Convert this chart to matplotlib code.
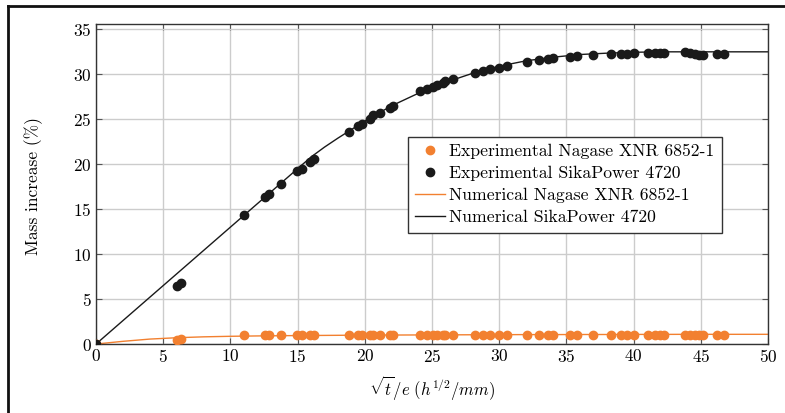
import matplotlib
matplotlib.use("Agg")
import matplotlib.pyplot as plt
from matplotlib.lines import Line2D

plt.rcParams["font.family"] = "serif"
plt.rcParams["font.serif"] = ["cmr10"]
plt.rcParams["mathtext.fontset"] = "cm"
plt.rcParams["axes.formatter.use_mathtext"] = True

# Measurement abscissae, sqrt(t)/e (h^1/2/mm)
x_exp = [0, 6.0, 6.3, 11.0, 12.6, 12.9, 13.8, 14.95, 15.3, 15.9, 16.2, 18.8, 19.5,
         19.8, 20.4, 20.6, 21.1, 21.9, 22.1, 24.1, 24.6, 25.1, 25.4, 25.8, 26.0,
         26.6, 28.2, 28.8, 29.3, 30.0, 30.6, 32.1, 33.0, 33.6, 34.0, 35.3, 35.8,
         37.0, 38.3, 39.1, 39.5, 40.0, 41.1, 41.6, 42.0, 42.3, 43.8, 44.2, 44.6,
         44.9, 45.2, 46.2, 46.7]

# Mass increase (%) - SikaPower 4720
sika_exp = [0, 6.4, 6.8, 14.3, 16.4, 16.7, 17.8, 19.2, 19.5, 20.2, 20.6, 23.6, 24.3,
            24.5, 25.0, 25.5, 25.7, 26.3, 26.5, 28.1, 28.4, 28.6, 28.8, 29.0, 29.2,
            29.5, 30.2, 30.4, 30.6, 30.7, 30.9, 31.4, 31.6, 31.7, 31.8, 31.9, 32.0,
            32.1, 32.3, 32.3, 32.3, 32.35, 32.4, 32.4, 32.4, 32.4, 32.5, 32.4, 32.3,
            32.2, 32.2, 32.3, 32.3]

# Mass increase (%) - Nagase XNR 6852-1
nagase_exp = [0, 0.5, 0.6, 0.95, 1.0, 1.0, 1.0, 1.0, 1.0, 1.0, 1.0, 1.05, 1.05,
              1.05, 1.05, 1.05, 1.05, 1.05, 1.05, 1.05, 1.05, 1.05, 1.05, 1.05, 1.05,
              1.05, 1.05, 1.05, 1.05, 1.05, 1.05, 1.05, 1.05, 1.05, 1.05, 1.05, 1.05,
              1.05, 1.05, 1.05, 1.05, 1.05, 1.05, 1.05, 1.05, 1.05, 1.05, 1.05, 1.05,
              1.05, 1.05, 1.05, 1.05]

# Numerical predictions
x_num = [0, 2, 4, 6, 8, 10, 12, 14, 16, 17, 18, 20, 22, 24, 26, 28, 30, 32, 34, 36,
         38, 40, 42, 44, 46, 48, 50]
sika_num = [0, 2.6, 5.2, 7.8, 10.4, 13.0, 15.6, 18.2, 20.8, 21.9, 22.9, 24.8, 26.5,
            27.9, 29.1, 30.1, 30.9, 31.5, 31.9, 32.2, 32.35, 32.45, 32.5, 32.5, 32.5,
            32.5, 32.5]
nagase_num = [0, 0.3, 0.55, 0.7, 0.8, 0.86, 0.9, 0.93, 0.95, 0.96, 0.97, 0.99, 1.0,
              1.01, 1.02, 1.03, 1.04, 1.05, 1.05, 1.06, 1.06, 1.07, 1.07, 1.08, 1.08,
              1.08, 1.08]

x_ticks = [0, 5, 10, 15, 20, 25, 30, 35, 40, 45, 50]
y_ticks = [0, 5, 10, 15, 20, 25, 30, 35]

ORANGE = "#f28030"
BLACK = "#1a1a1a"

fig = plt.figure(figsize=(7.85, 4.13), dpi=100)
ax = fig.add_axes([0.1223, 0.167, 0.856, 0.775])

ax.plot(x_exp, nagase_exp, "o", color=ORANGE, ms=6, zorder=3,
        label="Experimental Nagase XNR 6852-1")
ax.plot(x_exp, sika_exp, "o", color=BLACK, ms=6, zorder=4,
        label="Experimental SikaPower 4720")
ax.plot(x_num, nagase_num, "-", color=ORANGE, lw=1.0, zorder=2,
        label="Numerical Nagase XNR 6852-1")
ax.plot(x_num, sika_num, "-", color=BLACK, lw=1.0, zorder=2,
        label="Numerical SikaPower 4720")

ax.set_xlim(0, 50)
ax.set_ylim(0, 35.6)
ax.set_xticks(x_ticks)
ax.set_yticks(y_ticks)
ax.grid(True, color="#cccccc", lw=1.0)
ax.set_axisbelow(True)
ax.tick_params(direction="in", top=True, right=True, length=4, width=0.8,
               color="#555555", labelsize=12.5, pad=3)
for s in ax.spines.values():
    s.set_color("#333333")
    s.set_linewidth(1.0)

ax.set_xlabel(r"$\sqrt{t}/e\ (h^{1/2}/mm)$", fontsize=12, labelpad=6)
ax.set_ylabel("Mass increase (%)", fontsize=12.5)
ax.yaxis.set_label_coords(-0.079, 0.495)

leg = ax.legend(loc="upper left", bbox_to_anchor=(0.464, 0.647), fontsize=12.7,
                frameon=True, fancybox=False, edgecolor="#333333", framealpha=1,
                borderaxespad=0, handlelength=1.7, handletextpad=0.25,
                labelspacing=0.38, borderpad=0.4)
leg.get_frame().set_linewidth(1.0)

# Page frame lines
fig.add_artist(Line2D([8 / 785, 1.0], [1 - 5.5 / 413, 1 - 5.5 / 413],
                      transform=fig.transFigure, color="#111111", lw=2))
fig.add_artist(Line2D([8 / 785, 8 / 785], [0, 1 - 5.5 / 413],
                      transform=fig.transFigure, color="#111111", lw=2))

fig.savefig("out.png", dpi=100)
